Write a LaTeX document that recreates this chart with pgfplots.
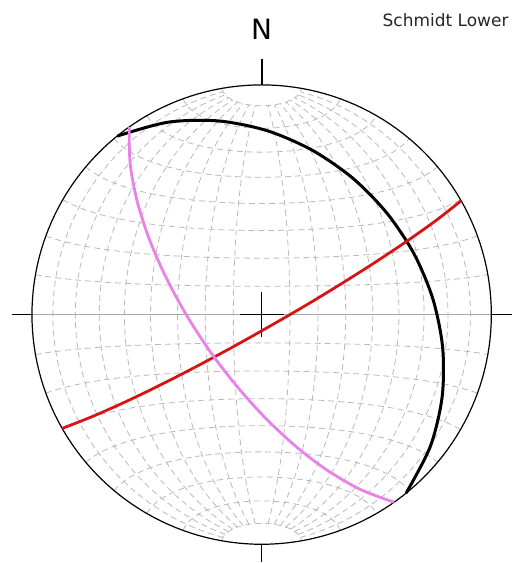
\documentclass[border=0pt]{standalone}
\usepackage{pgfplots}
\pgfplotsset{compat=1.18}
\usepackage{fontspec}
\setmainfont{DejaVu Sans}
\definecolor{gridgray}{RGB}{185,185,185}
\definecolor{eqgray}{RGB}{170,170,170}
\definecolor{redc}{RGB}{215,20,20}
\definecolor{pinkc}{RGB}{232,130,232}
\begin{document}
\begin{tikzpicture}
\begin{axis}[scale only axis, width=517pt, height=563pt,
  xmin=0, xmax=517, ymin=0, ymax=563, y dir=reverse,
  hide axis, clip=false]
\path (axis cs:0,0) rectangle (axis cs:517,563);
% net: meridians (great circles through N and S)
\pgfplotsinvokeforeach{-80,-70,...,-10,10,20,...,80}{
  \addplot[gridgray, line width=0.8pt, dash pattern=on 6pt off 4pt, domain=-80:80, samples=37, smooth, variable=\t]
   ({262+230*cos(\t)*sin(#1)/sqrt(1+cos(\t)*cos(#1))},{315-230*sin(\t)/sqrt(1+cos(\t)*cos(#1))});
}
% net: small circles about N-S axis
\pgfplotsinvokeforeach{-80,-70,...,-10,10,20,...,80}{
  \addplot[gridgray, line width=0.8pt, dash pattern=on 6pt off 4pt, domain=-90:90, samples=37, smooth, variable=\t]
   ({262+230*cos(#1)*sin(\t)/sqrt(1+cos(#1)*cos(\t))},{315-230*sin(#1)/sqrt(1+cos(#1)*cos(\t))});
}
% equator
\addplot[eqgray, line width=1pt] coordinates {(32,315) (492,315)};
% primitive
\addplot[black, line width=1.2pt, domain=0:360, samples=181, variable=\t] ({262+230*cos(\t)},{315+230*sin(\t)});
% ticks
\addplot[black, line width=2pt] coordinates {(262,59) (262,85)};
\addplot[black, line width=1.5pt] coordinates {(12,315) (32,315)};
\addplot[black, line width=1.5pt] coordinates {(492,315) (513,315)};
\addplot[black, line width=1.5pt] coordinates {(262,545) (262,563)};
\addplot[black, line width=1.5pt] coordinates {(240,315) (284,315)};
\addplot[black, line width=1.5pt] coordinates {(262,292) (262,337)};
% great circles
\addplot[black, line width=3pt, smooth] coordinates {
 (117.3,136.3) (168.0,122.4) (218.8,121.1) (267.6,130.9) (312.8,150.5) (353.2,178.4)
 (387.4,213.4) (414.6,254.2) (433.5,299.5) (443.2,347.8) (442.7,397.6) (430.9,447.0) (406.7,493.7)};
\addplot[redc, line width=2.8pt, smooth] coordinates {
 (461.8,201.0) (436.4,220.9) (407.4,241.5) (375.6,262.7) (341.5,284.3) (305.8,306.0) (269.0,327.3)
 (231.9,348.1) (195.1,367.8) (159.2,386.2) (124.7,402.8) (92.2,417.2) (62.2,429.0)};
\addplot[pinkc, line width=2.8pt, smooth] coordinates {
 (394.6,502.9) (360.3,489.9) (327.2,470.6) (295.4,446.3) (265.0,417.8) (236.5,386.0) (210.1,351.6)
 (186.6,315.3) (166.2,277.7) (149.5,239.5) (137.3,201.4) (130.3,163.7) (129.4,127.1)};
\node[anchor=base, font=\fontsize{28}{30}\selectfont, inner sep=0pt] at (axis cs:262,40) {N};
\node[anchor=base west, font=\fontsize{17}{19}\selectfont, inner sep=0pt, text=black!85] at (axis cs:383,27) {Schmidt Lower};
\end{axis}
\end{tikzpicture}
\end{document}
